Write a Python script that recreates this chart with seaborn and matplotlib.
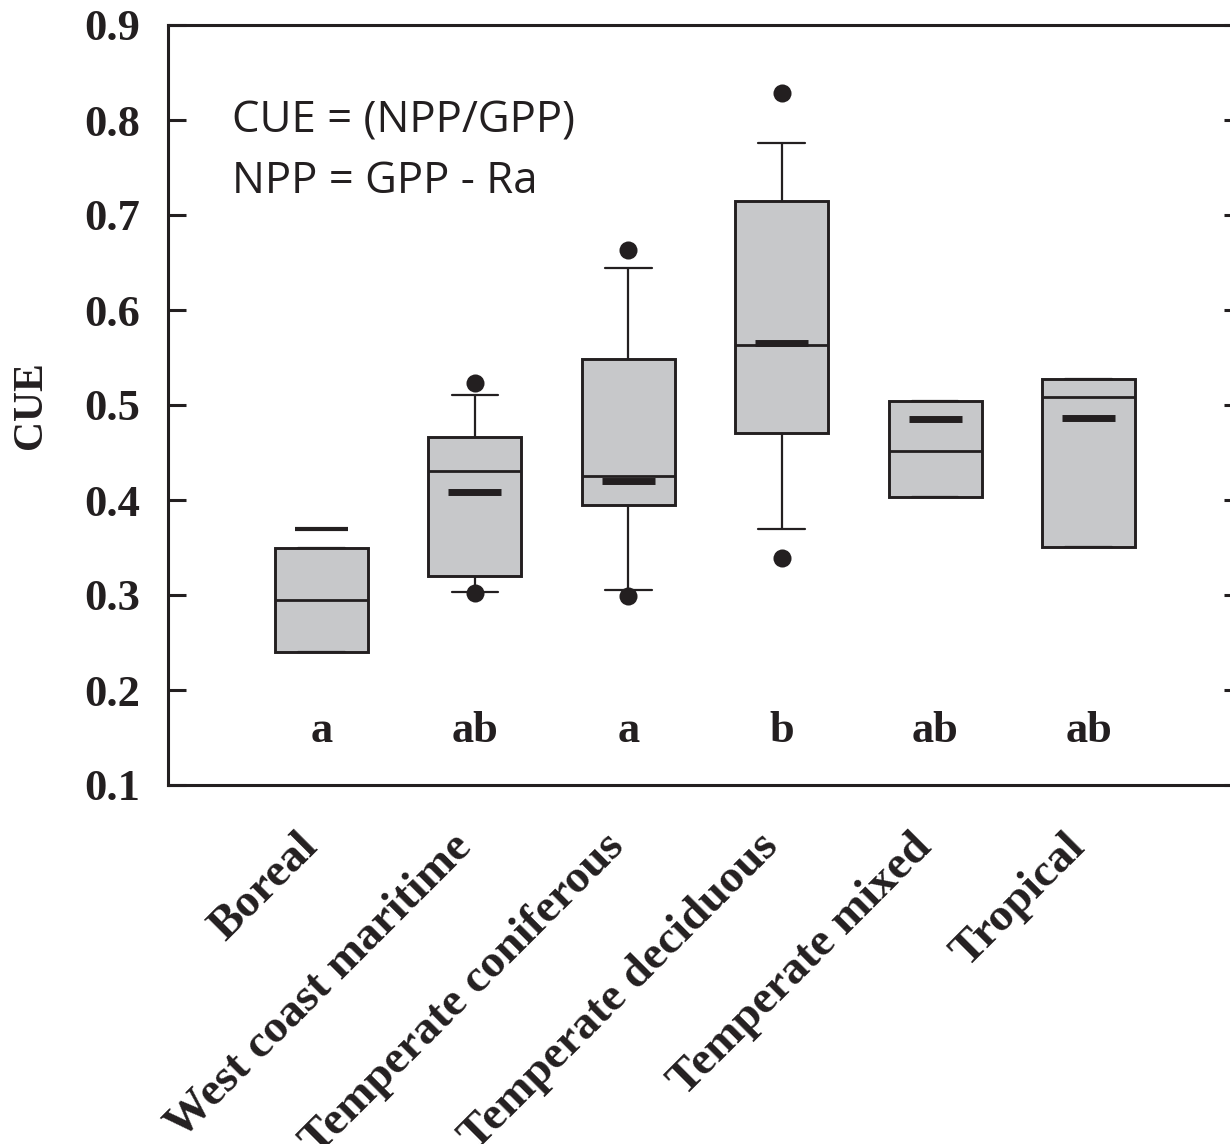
import numpy as np
import pandas as pd
import seaborn as sns
import matplotlib.pyplot as plt
from matplotlib.transforms import ScaledTranslation

# ---- values ----
biomes = ["Boreal", "West coast maritime", "Temperate coniferous",
          "Temperate deciduous", "Temperate mixed", "Tropical"]
# five-number summary per biome: lower whisker, Q1, median, Q3, upper whisker
whisk_lo = [0.240, 0.303, 0.305, 0.369, 0.403, 0.351]
q1 = [0.240, 0.320, 0.395, 0.471, 0.403, 0.351]
median = [0.295, 0.431, 0.425, 0.563, 0.452, 0.508]
q3 = [0.350, 0.466, 0.548, 0.715, 0.504, 0.527]
whisk_hi = [0.350, 0.511, 0.644, 0.776, 0.504, 0.527]
mean_cue = [0.370, 0.408, 0.420, 0.565, 0.485, 0.486]

outlier_biome = ["West coast maritime", "West coast maritime",
                 "Temperate coniferous", "Temperate coniferous",
                 "Temperate deciduous", "Temperate deciduous"]
outlier_cue = [0.523, 0.302, 0.663, 0.299, 0.828, 0.339]

letters = ["a", "ab", "a", "b", "ab", "ab"]
yticks = [0.1, 0.2, 0.3, 0.4, 0.5, 0.6, 0.7, 0.8, 0.9]

# long table : the 5 summary values of each group -> quartiles come out exactly
rows = []
for i, b in enumerate(biomes):
    for v in (whisk_lo[i], q1[i], median[i], q3[i], whisk_hi[i]):
        rows.append({"biome": b, "CUE": v})
df = pd.DataFrame(rows)
df_out = pd.DataFrame({"biome": outlier_biome, "CUE": outlier_cue})

sns.set_style("ticks")
plt.rcParams['font.family'] = ['Liberation Serif', 'DejaVu Serif']

edge = "#231f20"
fig = plt.figure(figsize=(12.3, 11.44), dpi=100)
ax = fig.add_axes([168/1230, 359/1144, 1074/1230, 760/1144])

sns.boxplot(data=df, x="biome", y="CUE", order=biomes, whis=(0, 100),
            width=0.606, color="#c7c8ca", saturation=1, linecolor=edge,
            linewidth=2.1, showfliers=False, ax=ax,
            medianprops={"linewidth": 2}, whiskerprops={"linewidth": 1.6},
            capprops={"linewidth": 1.6})
sns.stripplot(data=df_out, x="biome", y="CUE", order=biomes, jitter=False,
              color=edge, size=13, linewidth=0, ax=ax)

# means as short thick bars (boreal one is drawn thinner in the original)
pos = np.arange(len(biomes))
ax.hlines(mean_cue, pos - 0.173, pos + 0.173, colors=edge,
          linewidth=[3, 5, 5, 5, 5, 5], zorder=5)

for i, l in enumerate(letters):
    ax.text(pos[i], 0.145, l, ha='center', va='baseline', fontsize=32, fontweight='bold', color=edge)

ax.text(0.0596, 0.858, "CUE = (NPP/GPP)", transform=ax.transAxes, family=['Open Sans'],
        fontsize=31.5, va='baseline', color=edge)
ax.text(0.0596, 0.779, "NPP = GPP - Ra", transform=ax.transAxes, family=['Open Sans'],
        fontsize=31.5, va='baseline', color=edge)

ax.set_xlim(-1, 6)
ax.set_ylim(0.1, 0.9)
ax.set_yticks(yticks)
ax.set_yticklabels(["%.1f" % t for t in yticks], fontweight='bold', fontsize=32)
ax.set_xticks(pos)
ax.set_xticklabels(biomes, rotation=45, ha='right', va='center', rotation_mode='anchor',
                   fontweight='bold', fontsize=34)
ax.tick_params(axis='y', direction='in', length=13, width=2.2, right=True, pad=20, colors=edge)
ax.tick_params(axis='x', length=0, pad=40, colors=edge)
shift = ScaledTranslation(-10/100, 0, fig.dpi_scale_trans)
for lab in ax.get_xticklabels():
    lab.set_transform(lab.get_transform() + shift)
for s in ax.spines.values():
    s.set_visible(True)
    s.set_linewidth(2.2)
    s.set_color(edge)

ax.set_xlabel("")
ax.set_ylabel("CUE", fontsize=30, fontweight='bold', color=edge)
ax.yaxis.set_label_coords(-0.11, 0.5)

fig.savefig("out.png", dpi=100)
